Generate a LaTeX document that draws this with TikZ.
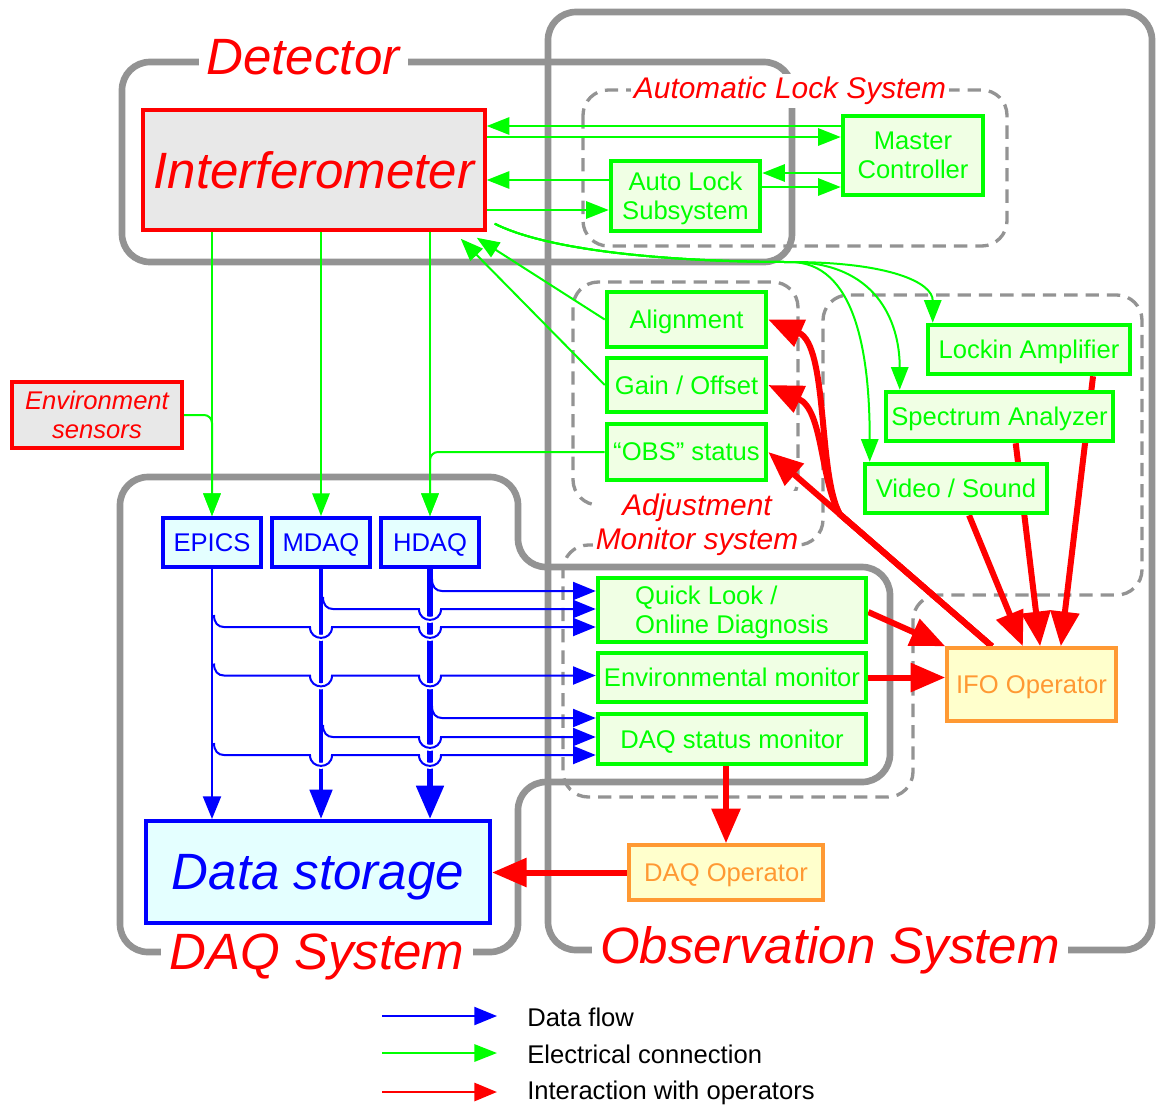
\documentclass[tikz,border=0pt]{standalone}
\usepackage{fontspec}
\setmainfont{Liberation Sans}
\usetikzlibrary{arrows.meta,calc}

\pgfdeclarelayer{regions}
\pgfdeclarelayer{links}
\pgfsetlayers{regions,links,main}

\definecolor{regiongray}{RGB}{147,147,147}
\definecolor{elecgreen}{RGB}{0,255,0}
\definecolor{elecfill}{RGB}{240,255,228}
\definecolor{datablue}{RGB}{0,0,255}
\definecolor{datafill}{RGB}{228,255,255}
\definecolor{opred}{RGB}{255,0,0}
\definecolor{oporange}{RGB}{255,153,51}
\definecolor{opfill}{RGB}{255,255,204}
\definecolor{ifmfill}{RGB}{232,232,232}

\newcommand{\fsSmall}{\fontsize{19.2}{22}\selectfont}
\newcommand{\fsMid}{\fontsize{22.4}{25.5}\selectfont}
\newcommand{\fsBig}{\fontsize{38.3}{42}\selectfont}

\tikzset{
  region/.style={draw=regiongray, line width=5pt, rounded corners=21pt},
  subregion/.style={draw=regiongray, line width=2.5pt, dash pattern=on 10pt off 6pt, rounded corners=19pt},
  regtitle/.style={fill=white, text=opred, font=\fsBig\itshape, inner xsep=6pt, inner ysep=1pt},
  subtitle/.style={fill=white, text=opred, font=\fsMid\itshape, inner sep=2pt, align=center},
  boxbase/.style={draw, rectangle, inner sep=0pt, align=center, font=\fsSmall, text depth=0pt},
  elecbox/.style={boxbase, draw=elecgreen, line width=3.4pt, fill=elecfill, text=elecgreen},
  databox/.style={boxbase, draw=datablue, line width=3pt, fill=datafill, text=datablue},
  opbox/.style={boxbase, draw=oporange, line width=2.6pt, fill=opfill, text=oporange},
  srcbox/.style={boxbase, draw=opred, line width=2.6pt, fill=ifmfill, text=opred, font=\fsSmall\itshape},
  legtext/.style={anchor=west, inner sep=0pt, font=\fsSmall, text=black},
  elec/.style={draw=elecgreen, line width=1.5pt, -{Triangle[length=17pt,width=13pt]}},
  dflow/.style={draw=datablue, line width=1.5pt, -{Triangle[length=17pt,width=13.5pt]}},
  dflowM/.style={draw=datablue, line width=3.5pt, -{Triangle[length=22pt,width=16.5pt]}},
  dflowH/.style={draw=datablue, line width=4.5pt, -{Triangle[length=25pt,width=20pt]}},
  inter/.style={draw=opred, line width=4.5pt, -{Triangle[length=26pt,width=21pt]}},
  interleg/.style={draw=opred, line width=2.2pt, -{Triangle[length=17pt,width=13.5pt]}},
  halo/.style={draw=white, line width=4.5pt},
  hop/.style 2 args={insert path={-- ($(#1 |- #2)+(-11,0)$) .. controls +(0,14.5) and +(0,14.5) .. ($(#1 |- #2)+(11,0)$)}}
}

\begin{document}
\begin{tikzpicture}[x=0.75pt,y=0.75pt,yscale=-1,xscale=1]
\useasboundingbox (0,0) rectangle (1156,1108);

%Shape: Region outlines
\begin{pgfonlayer}{regions}
\draw[region] (122,62) rectangle (792,262);
\draw[region] (548,12) rectangle (1152,950);
\draw[region] (120,477) -- (518,477) -- (518,567) -- (890,567) -- (890,782) -- (518,782) -- (518,952) -- (120,952) -- cycle;
\draw[subregion] (583,90) rectangle (1007,246);
\draw[subregion] (573,282) rectangle (798,505);
\draw[subregion] (563,545) -- (823,545) -- (823,295) -- (1142,295) -- (1142,595) -- (913,595) -- (913,797) -- (563,797) -- cycle;
\end{pgfonlayer}

% Text Node: region titles
\node[regtitle] (dettitle) at (303,57) {Detector};
\node[regtitle] (daqtitle) at (317,957) {DAQ System};
\node[regtitle] (obstitle) at (830,950) {Observation System};
\node[subtitle] (locktitle) at (790,91) {Automatic Lock System};
\node[subtitle] (adjtitle) at (697,525) {Adjustment\\Monitor system};

%Shape: Rectangle
\node[srcbox, font=\fsBig\itshape, minimum width=256.5pt, minimum height=90pt] (ifm) at (314,170) {Interferometer};
\node[srcbox, minimum width=127.5pt, minimum height=49.5pt] (envs) at (97,415) {Environment\\sensors};
\node[databox, minimum width=73.5pt, minimum height=36.75pt] (epics) at (212,542.5) {EPICS};
\node[databox, minimum width=73.5pt, minimum height=36.75pt] (mdaq) at (321,542.5) {MDAQ};
\node[databox, minimum width=73.5pt, minimum height=36.75pt] (hdaq) at (430,542.5) {HDAQ};
\node[databox, font=\fsBig\itshape, minimum width=258pt, minimum height=76.5pt] (store) at (318,872) {Data storage};
\node[elecbox, minimum width=105pt, minimum height=59.25pt] (mctl) at (913,155.5) {Master\\Controller};
\node[elecbox, minimum width=111.75pt, minimum height=52.5pt] (alock) at (685.5,196) {Auto Lock\\Subsystem};
\node[elecbox, minimum width=119.25pt, minimum height=41.25pt] (align) at (686.5,319.5) {Alignment};
\node[elecbox, minimum width=119.25pt, minimum height=40.5pt] (gain) at (686.5,385) {Gain / Offset};
\node[elecbox, minimum width=119.25pt, minimum height=42pt] (obs) at (686.5,452) {“OBS” status};
\node[elecbox, minimum width=151.5pt, minimum height=36.75pt] (lockin) at (1029,349.5) {Lockin Amplifier};
\node[elecbox, minimum width=170.25pt, minimum height=36.75pt] (spec) at (999.5,416.5) {Spectrum Analyzer};
\node[elecbox, minimum width=136.5pt, minimum height=36.75pt] (video) at (956,488.5) {Video / Sound};
\node[elecbox, align=left, minimum width=201pt, minimum height=48pt] (qlook) at (732,610) {Quick Look /\\Online Diagnosis};
\node[elecbox, minimum width=201pt, minimum height=36.75pt] (envmon) at (732,677.5) {Environmental monitor};
\node[elecbox, minimum width=201pt, minimum height=37.5pt] (daqmon) at (732,739) {DAQ status monitor};
\node[opbox, minimum width=126.75pt, minimum height=54.75pt] (ifo) at (1031.5,684.5) {IFO Operator};
\node[opbox, minimum width=145.5pt, minimum height=41.25pt] (daqop) at (726,872.5) {DAQ Operator};

% Text Node: legend
\node[legtext] (legdata) at (527,1017) {Data flow};
\node[legtext] (legelec) at (527,1054) {Electrical connection};
\node[legtext] (leginter) at (527,1093) {Interaction with operators};

% Coordinates for connector ends
\coordinate (m1) at ($(mctl.west)+(0,-29.5)$);
\coordinate (m2) at ($(mctl.west)+(0,-18.5)$);
\coordinate (m3) at ($(mctl.west)+(0,17.5)$);
\coordinate (m4) at ($(mctl.west)+(0,31.5)$);
\coordinate (a1) at ($(alock.west)+(0,-16)$);
\coordinate (a2) at ($(alock.west)+(0,14)$);
\coordinate (g0) at ($(ifm.south east)+(8,-8)$);
\coordinate (g1) at (790,262);
\coordinate (qa) at ($(qlook.west)+(0,-19)$);
\coordinate (qb) at ($(qlook.west)+(0,-1)$);
\coordinate (qc) at ($(qlook.west)+(0,17)$);
\coordinate (ea) at ($(envmon.west)+(0,-2)$);
\coordinate (da) at ($(daqmon.west)+(0,-21)$);
\coordinate (db) at ($(daqmon.west)+(0,-2)$);
\coordinate (dc) at ($(daqmon.west)+(0,16)$);
\coordinate (r0) at ($(ifo.north west)!0.27!(ifo.north east)$);
\coordinate (r1) at ($(r0)!0.68!(obs.east)$);

\begin{pgfonlayer}{links}
%Straight Lines: electrical connections
\draw[elec] (m1) -- (ifm.east |- m1);
\draw[elec] (ifm.east |- m2) -- (m2);
\draw[elec] (a1) -- (ifm.east |- a1);
\draw[elec] (ifm.east |- a2) -- (a2);
\draw[elec] (m3) -- (alock.east |- m3);
\draw[elec] (alock.east |- m4) -- (m4);
\draw[elec] (align.west) -- ($(ifm.south east)+(-10,6)$);
\draw[elec] (gain.west) -- ($(ifm.south east)+(-26,7)$);
\draw[elec] (epics.north |- ifm.south) -- (epics.north);
\draw[elec] (mdaq.north |- ifm.south) -- (mdaq.north);
\draw[elec] (hdaq.north |- ifm.south) -- (hdaq.north);
\draw[elec, rounded corners=6pt] (envs.east) -| (epics.north);
\draw[elec, rounded corners=6pt] (obs.west) -| (hdaq.north);
%Curve Lines
\draw[elec] (g0) .. controls +(60,30) and +(-100,0) .. (g1) .. controls +(100,0) and +(0,-40) .. ($(lockin.north west)+(7,0)$);
\draw[elec] (g0) .. controls +(60,30) and +(-100,0) .. (g1) .. controls +(85,0) and +(0,-70) .. ($(spec.north west)+(16,0)$);
\draw[elec] (g0) .. controls +(60,30) and +(-100,0) .. (g1) .. controls +(65,0) and +(0,-110) .. ($(video.north west)+(7,0)$);

%Straight Lines: data flow
\draw[dflow] (epics.south) -- (epics.south |- store.north);
\draw[dflowM] (mdaq.south) -- (mdaq.south |- store.north);
\draw[dflowH] (hdaq.south) -- (hdaq.south |- store.north);
\foreach \t/\c in {hdaq/qb, mdaq/qc, hdaq/qc, mdaq/ea, hdaq/ea, hdaq/db, mdaq/dc, hdaq/dc}
  \draw[halo] ($(\t |- \c)+(-11,0)$) .. controls +(0,14.5) and +(0,14.5) .. ($(\t |- \c)+(11,0)$);
\draw[dflow] ($(hdaq |- qa)+(2,-12)$) .. controls +(0,8) and +(-6,0) .. ($(hdaq |- qa)+(12,0)$) -- (qa);
\draw[dflow] ($(mdaq |- qb)+(2,-12)$) .. controls +(0,8) and +(-6,0) .. ($(mdaq |- qb)+(12,0)$) [hop={hdaq}{qb}] -- (qb);
\draw[dflow] ($(epics |- qc)+(2,-12)$) .. controls +(0,8) and +(-6,0) .. ($(epics |- qc)+(12,0)$) [hop={mdaq}{qc}] [hop={hdaq}{qc}] -- (qc);
\draw[dflow] ($(epics |- ea)+(2,-12)$) .. controls +(0,8) and +(-6,0) .. ($(epics |- ea)+(12,0)$) [hop={mdaq}{ea}] [hop={hdaq}{ea}] -- (ea);
\draw[dflow] ($(hdaq |- da)+(2,-12)$) .. controls +(0,8) and +(-6,0) .. ($(hdaq |- da)+(12,0)$) -- (da);
\draw[dflow] ($(mdaq |- db)+(2,-12)$) .. controls +(0,8) and +(-6,0) .. ($(mdaq |- db)+(12,0)$) [hop={hdaq}{db}] -- (db);
\draw[dflow] ($(epics |- dc)+(2,-12)$) .. controls +(0,8) and +(-6,0) .. ($(epics |- dc)+(12,0)$) [hop={mdaq}{dc}] [hop={hdaq}{dc}] -- (dc);

%Straight Lines: interaction with operators
\draw[inter] ($(qlook.east)+(0,2)$) -- (ifo.north west);
\draw[inter] (envmon.east) -- (ifo.west |- envmon.east);
\draw[inter] (daqop.north |- daqmon.south) -- (daqop.north);
\draw[inter] (daqop.west) -- (store.east |- daqop.west);
\draw[inter] ($(video.south west)!0.57!(video.south east)$) -- ($(ifo.north west)!0.45!(ifo.north east)$);
\draw[inter] ($(spec.south west)!0.57!(spec.south east)$) -- ($(ifo.north west)!0.55!(ifo.north east)$);
\draw[inter] ($(lockin.south west)!0.81!(lockin.south east)$) -- ($(ifo.north west)!0.67!(ifo.north east)$);
\draw[inter] (r0) -- (obs.east);
\draw[inter] (r0) -- (r1) .. controls +(-22,-40) and +(60,26) .. (align.east);
\draw[inter] (r0) -- (r1) .. controls +(-20,-35) and +(55,25) .. (gain.east);

%Straight Lines: legend
\draw[dflow] ($(legdata.west)+(-145,-1)$) -- ($(legdata.west)+(-30,-1)$);
\draw[elec] ($(legelec.west)+(-145,-1)$) -- ($(legelec.west)+(-30,-1)$);
\draw[interleg] ($(leginter.west)+(-145,-1)$) -- ($(leginter.west)+(-30,-1)$);
\end{pgfonlayer}

\end{tikzpicture}
\end{document}
